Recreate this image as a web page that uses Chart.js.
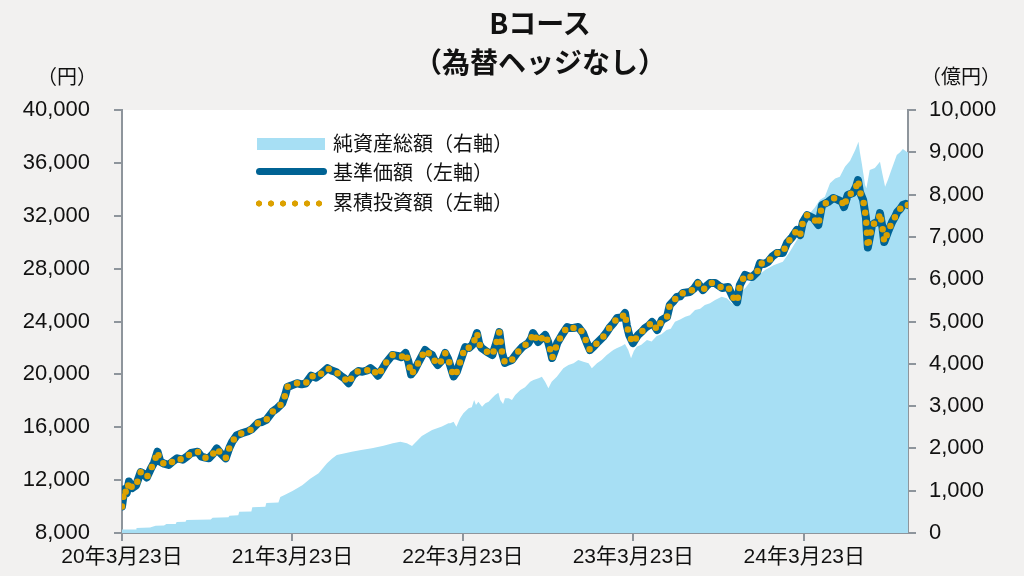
<!DOCTYPE html>
<html>
<head>
<meta charset="utf-8">
<script src="https://cdn.jsdelivr.net/npm/chart.js@4.4.1/dist/chart.umd.min.js"></script>
<style>
  html, body { margin: 0; padding: 0; background: #f2f1f0; }
  #wrap { position: relative; width: 1024px; height: 576px; overflow: hidden; background: #f2f1f0; }
  #chart { position: absolute; left: 0; top: 0; }
  .txt { position: absolute; font-family: "Noto Sans CJK JP", "Noto Sans", sans-serif; color: #111; white-space: nowrap; }
  .title { left: 0; width: 1080px; text-align: center; font-weight: bold; font-size: 28px; line-height: 39px; top: 3px; }
  .unit { font-size: 20px; line-height: 20px; top: 66px; }
  .leg { font-size: 20px; line-height: 20px; left: 333px; }
  .sw { position: absolute; }
</style>
</head>
<body>
<div id="wrap">
  <canvas id="chart" width="1024" height="576"></canvas>
  <div class="txt title">Bコース<br>（為替ヘッジなし）</div>
  <div class="txt unit" style="left:37px;">（円）</div>
  <div class="txt unit" style="left:921px;">（億円）</div>
  <div class="sw" style="left:257px;top:138px;width:68px;height:12px;background:#a7dff4;"></div>
  <div class="txt leg" style="top:133px;">純資産総額（右軸）</div>
  <div class="sw" style="left:256px;top:168px;width:71px;height:7px;border-radius:4px;background:#006394;"></div>
  <div class="txt leg" style="top:162px;">基準価額（左軸）</div>
  <div class="sw" style="left:253px;top:200px;width:72px;height:7px;background-image:radial-gradient(circle, #dca100 2.8px, rgba(220,161,0,0) 3.4px);background-size:12px 7px;background-repeat:repeat-x;"></div>
  <div class="txt leg" style="top:192px;">累積投資額（左軸）</div>
</div>
<script>
// x values: days since 2020-03-23
const tickDays = [0, 365, 730, 1095, 1461];
const tickLabels = ["20年3月23日", "21年3月23日", "22年3月23日", "23年3月23日", "24年3月23日"];
const lastDay = 1683;

// 基準価額 (円)
const navDays = [0,5,10,15,22,30,40,46,53,63,69,76,82,90,100,110,118,130,140,148,162,170,178,186,195,203,212,222,230,236,246,258,270,278,292,300,309,322,333,343,350,354,362,375,385,393,405,415,425,440,448,458,468,476,485,495,506,515,525,532,540,548,556,565,579,590,598,607,613,619,626,632,640,649,657,664,670,676,686,692,698,703,710,717,724,735,743,750,756,760,765,770,782,793,800,808,814,820,828,835,846,857,870,876,880,886,891,898,906,912,917,921,927,932,942,953,960,966,977,987,995,1002,1010,1017,1030,1038,1045,1053,1060,1070,1077,1081,1086,1094,1100,1105,1112,1120,1128,1135,1146,1156,1167,1173,1180,1188,1195,1201,1216,1225,1233,1244,1252,1259,1270,1278,1285,1298,1308,1317,1323,1334,1342,1349,1360,1366,1375,1383,1392,1402,1415,1424,1435,1445,1452,1458,1467,1480,1491,1499,1512,1523,1533,1542,1546,1554,1565,1572,1576,1580,1587,1593,1597,1602,1606,1612,1619,1623,1628,1632,1640,1649,1655,1660,1666,1672,1678,1683];
const nav = [10000,11300,11000,11900,11400,11600,12600,12500,12200,12950,13350,14150,13400,13250,13150,13450,13650,13550,13800,14050,14150,13770,13700,13650,14000,14400,14000,13650,14450,14900,15400,15560,15700,15850,16350,16400,16550,17170,17460,17800,18500,19050,19150,19330,19250,19300,19900,19750,20000,20470,20300,20180,19900,19700,19330,19950,20250,20200,20300,20470,20250,19900,20330,20860,21460,21400,21300,21620,21000,20000,20300,20710,21240,21840,21600,21460,21000,20710,21090,21620,21200,20650,19850,20200,20940,22070,22000,22220,22700,23130,22300,22000,21690,21460,22200,23200,21620,20860,21000,21090,21620,22070,22370,22700,23130,22800,22450,22700,22980,22500,21840,21240,21800,22370,22980,23580,23500,23510,23580,23130,22400,21840,22100,22370,22830,23200,23580,23900,24260,24300,24640,23700,22980,22370,22700,22980,23200,23510,23700,23960,23360,24110,24340,25250,25500,25850,25900,26160,26230,26500,26910,26380,26700,26910,26910,26700,26530,26610,25850,25470,26760,27520,27400,27360,27740,28420,28350,28500,28900,29180,29180,29940,30390,30920,30540,31530,32050,31830,31300,32810,33040,33340,33200,33040,32660,33570,33720,34200,34700,33800,33190,31830,29600,30500,31300,31450,31530,32200,31200,30010,30770,31530,31900,32280,32500,32810,32900,32810];

// 累積投資額 (円) – drawn over the 基準価額 line in the picture
const cumulative = [10000,11300,11000,11900,11400,11600,12600,12500,12200,12950,13350,14150,13400,13250,13150,13450,13650,13550,13800,14050,14150,13770,13700,13650,14000,14400,14000,13650,14450,14900,15400,15560,15700,15850,16350,16400,16550,17170,17460,17800,18500,19050,19150,19330,19250,19300,19900,19750,20000,20470,20300,20180,19900,19700,19330,19950,20250,20200,20300,20470,20250,19900,20330,20860,21460,21400,21300,21620,21000,20000,20300,20710,21240,21840,21600,21460,21000,20710,21090,21620,21200,20650,19850,20200,20940,22070,22000,22220,22700,23130,22300,22000,21690,21460,22200,23200,21620,20860,21000,21090,21620,22070,22370,22700,23130,22800,22450,22700,22980,22500,21840,21240,21800,22370,22980,23580,23500,23510,23580,23130,22400,21840,22100,22370,22830,23200,23580,23900,24260,24300,24640,23700,22980,22370,22700,22980,23200,23510,23700,23960,23360,24110,24340,25250,25500,25850,25900,26160,26230,26500,26910,26380,26700,26910,26910,26700,26530,26610,25850,25470,26760,27520,27400,27360,27740,28420,28350,28500,28900,29180,29180,29940,30390,30920,30540,31530,32050,31830,31300,32810,33040,33340,33200,33040,32660,33570,33720,34200,34700,33800,33190,31830,29600,30500,31300,31450,31530,32200,31200,30010,30770,31530,31900,32280,32500,32810,32900,32810];

// 純資産総額 (億円)
const assetDays = [0,30,31,60,72,90,95,115,117,136,138,190,194,228,230,249,251,277,279,307,309,335,339,348,366,386,403,421,439,450,460,475,492,512,535,560,580,596,610,621,632,642,664,685,699,703,710,716,724,731,742,749,754,758,763,771,778,785,792,799,806,810,816,820,828,835,842,853,863,874,881,892,899,906,913,920,931,945,956,967,977,988,999,1006,1017,1027,1038,1052,1059,1070,1077,1084,1090,1096,1102,1112,1124,1134,1145,1155,1166,1175,1184,1195,1206,1216,1227,1238,1248,1259,1270,1284,1295,1306,1313,1323,1335,1348,1362,1377,1395,1415,1430,1445,1458,1473,1484,1494,1505,1516,1527,1537,1548,1559,1570,1577,1580,1584,1588,1591,1594,1601,1612,1623,1628,1634,1640,1646,1659,1666,1672,1680,1683];
const assets = [80,85,120,130,170,175,210,215,260,265,310,320,360,370,410,420,500,510,610,620,710,720,850,900,1000,1130,1280,1411,1648,1760,1844,1880,1922,1960,2002,2060,2120,2159,2120,2057,2180,2293,2435,2520,2593,2593,2631,2513,2711,2829,2947,2971,3144,3026,3104,2986,3066,3104,3184,3262,3317,3144,3050,3184,3184,3144,3262,3381,3444,3577,3617,3657,3695,3577,3421,3577,3695,3894,3972,4012,4090,4050,4012,3894,4012,4090,4208,4326,4366,4420,4468,4326,4130,4300,4405,4450,4563,4530,4657,4700,4799,4830,4995,5050,5114,5150,5272,5300,5390,5430,5508,5587,5550,5430,5390,5667,5800,5981,6080,6217,6330,6414,6651,6927,7150,7558,7700,7872,7950,8267,8380,8424,8660,8800,9054,9251,9000,8740,8450,8227,8149,8582,8630,8778,8500,8188,8350,8540,8936,9000,9080,9014,9000];

const toXY = (days, vals) => days.map((d, i) => ({ x: d, y: vals[i] }));

const axisGrey = '#8e959c';
const tickFont = { family: "'Liberation Sans', Arial, 'Noto Sans CJK JP', sans-serif", size: 22 };

const bgPlugin = {
  id: 'bg',
  beforeDraw(chart) {
    const { ctx, chartArea: a } = chart;
    ctx.save();
    ctx.fillStyle = '#ffffff';
    ctx.fillRect(a.left, a.top, a.right - a.left, a.bottom - a.top);
    ctx.restore();
  }
};

new Chart(document.getElementById('chart'), {
  type: 'line',
  data: {
    datasets: [
      {
        label: '累積投資額（左軸）',
        data: toXY(navDays, cumulative),
        yAxisID: 'y',
        borderColor: '#dca100',
        borderWidth: 6.5,
        borderDash: [0, 10],
        borderCapStyle: 'round',
        pointRadius: 0,
        fill: false,
        tension: 0,
        order: 1
      },
      {
        label: '基準価額（左軸）',
        data: toXY(navDays, nav),
        yAxisID: 'y',
        borderColor: '#006394',
        borderWidth: 8,
        borderJoinStyle: 'round',
        borderCapStyle: 'round',
        pointRadius: 0,
        fill: false,
        tension: 0,
        order: 2
      },
      {
        label: '純資産総額（右軸）',
        data: toXY(assetDays, assets),
        yAxisID: 'y2',
        borderWidth: 0,
        borderColor: 'rgba(0,0,0,0)',
        backgroundColor: '#a7dff4',
        pointRadius: 0,
        fill: 'origin',
        tension: 0,
        order: 3
      }
    ]
  },
  options: {
    responsive: false,
    devicePixelRatio: 1,
    animation: false,
    layout: { padding: { top: 110, left: 0, right: 0, bottom: 0 } },
    plugins: { legend: { display: false }, title: { display: false }, tooltip: { enabled: false } },
    scales: {
      x: {
        type: 'linear',
        min: 0,
        max: lastDay,
        afterBuildTicks(axis) { axis.ticks = tickDays.map(v => ({ value: v })); },
        afterFit(axis) { axis.height = 43; },
        ticks: {
          autoSkip: false,
          maxRotation: 0,
          padding: 4,
          color: '#111',
          font: { family: "'Liberation Sans', Arial, 'Noto Sans CJK JP', sans-serif", size: 21 },
          callback: (v) => tickLabels[tickDays.indexOf(v)]
        },
        grid: { display: true, drawOnChartArea: false, drawTicks: true, tickLength: 8, color: axisGrey, lineWidth: 2 },
        border: { display: true, color: axisGrey, width: 2 }
      },
      y: {
        position: 'left',
        min: 8000,
        max: 40000,
        afterFit(axis) { axis.width = 122; },
        ticks: {
          stepSize: 4000,
          padding: 24,
          color: '#111',
          font: tickFont,
          callback: (v) => v.toLocaleString('en-US')
        },
        grid: { display: true, drawOnChartArea: false, drawTicks: true, tickLength: 8, color: axisGrey, lineWidth: 2 },
        border: { display: true, color: axisGrey, width: 2 }
      },
      y2: {
        position: 'right',
        min: 0,
        max: 10000,
        afterFit(axis) { axis.width = 116; },
        ticks: {
          stepSize: 1000,
          padding: 13,
          color: '#111',
          font: tickFont,
          callback: (v) => v.toLocaleString('en-US')
        },
        grid: { display: true, drawOnChartArea: false, drawTicks: true, tickLength: 8, color: axisGrey, lineWidth: 2 },
        border: { display: true, color: axisGrey, width: 2 }
      }
    }
  },
  plugins: [bgPlugin]
});
</script>
</body>
</html>
